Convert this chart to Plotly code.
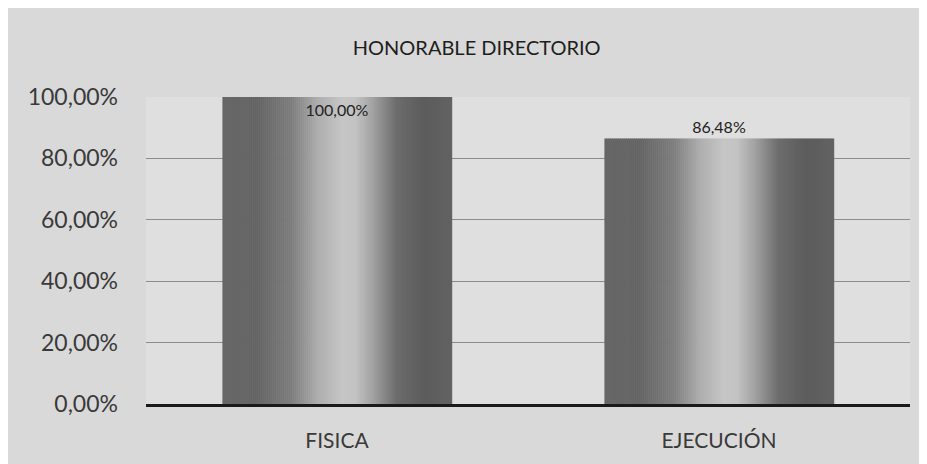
import plotly.graph_objects as go
import numpy as np

categories = ["FISICA", "EJECUCIÓN"]
values = [1.0, 0.8648]
value_labels = ["100,00%", "86,48%"]
tick_vals = [0, 0.2, 0.4, 0.6, 0.8, 1.0]
tick_text = ["0,00%", "20,00%", "40,00%", "60,00%", "80,00%", "100,00%"]
title_text = "HONORABLE DIRECTORIO"

FONT = "Lato, 'Open Sans', sans-serif"
BAR_W = 0.6
N = 115

# brightness profile across bar width (style only)
prof_t = [0.0, 0.15, 0.3, 0.42, 0.52, 0.58, 0.66, 0.76, 0.88, 1.0]
prof_v = [102, 100, 125, 175, 198, 195, 160, 108, 92, 98]

fig = go.Figure()
sw = BAR_W / N
for i in range(N):
    t = (i + 0.5) / N
    v = float(np.interp(t, prof_t, prof_v))
    fig.add_trace(go.Bar(
        x=categories, y=values,
        width=sw * 1.3, offset=-BAR_W / 2 + i * sw,
        marker=dict(color=f"rgb({v:.1f},{v:.1f},{v:.1f})", line=dict(width=0)),
        hoverinfo="skip", showlegend=False,
    ))

fig.add_trace(go.Bar(
    x=categories, y=values, width=BAR_W,
    marker=dict(color="rgba(0,0,0,0)", line=dict(width=0)),
    text=value_labels, textposition=["inside", "outside"],
    insidetextanchor="end", constraintext="none",
    textfont=dict(family=FONT, size=16, color="#222222"),
    outsidetextfont=dict(family=FONT, size=16, color="#222222"),
    insidetextfont=dict(family=FONT, size=16, color="#222222"),
    cliponaxis=False, showlegend=False, hoverinfo="skip",
))

fig.update_layout(
    width=919, height=456,
    barmode="overlay",
    paper_bgcolor="#d9d9d9",
    plot_bgcolor="#dfdfdf",
    margin=dict(l=138, r=17, t=89, b=60),
    title=dict(text=title_text, x=0.51, xanchor="center", y=0.912, yanchor="middle",
               font=dict(family=FONT, size=20, color="#1e1e1e")),
    font=dict(family=FONT, color="#2a2a2a"),
)
fig.update_yaxes(
    range=[0, 1.0], tickvals=tick_vals, ticktext=tick_text,
    tickfont=dict(family=FONT, size=23, color="#3a3a3a"),
    showgrid=True, gridcolor="#8c8c8c", gridwidth=1,
    zeroline=False, showline=False, ticks="", ticklabelstandoff=27,
)
fig.update_xaxes(
    tickfont=dict(family=FONT, size=21, color="#3a3a3a"),
    showline=True, linecolor="#1a1a1a", linewidth=3,
    ticks="", ticklabelstandoff=16,
)

fig.write_html("out.html")
